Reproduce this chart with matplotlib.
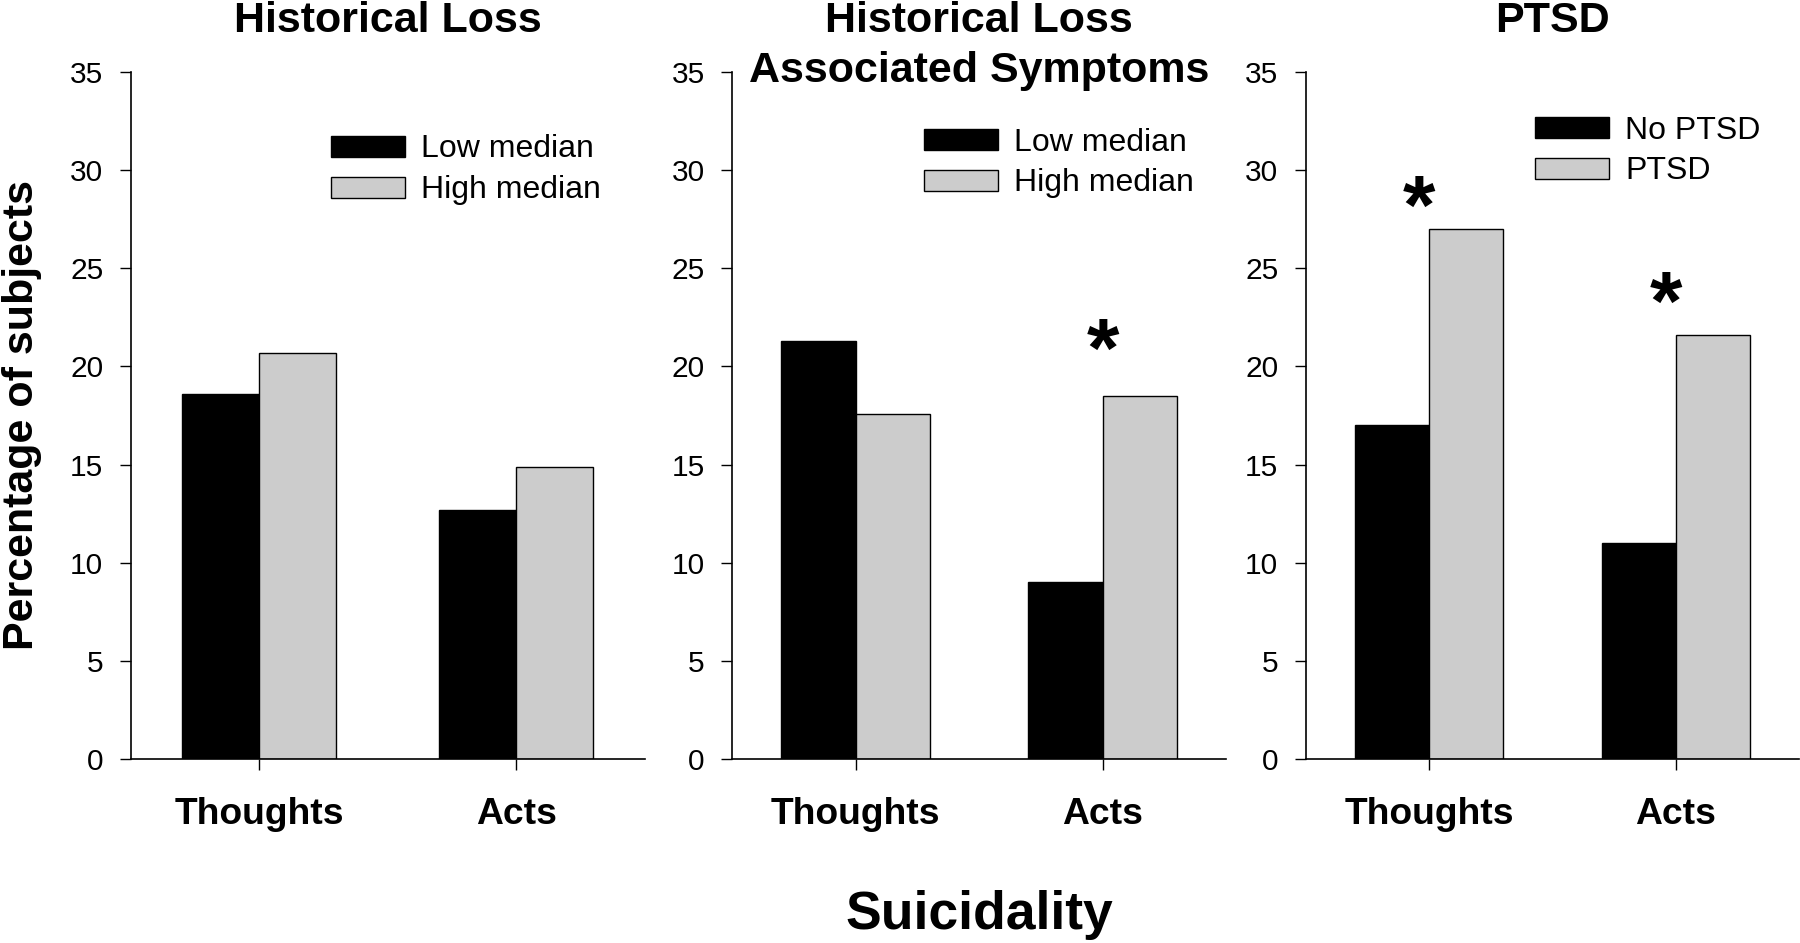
import numpy as np
from matplotlib import pyplot as plt
from matplotlib import transforms

plt.rcParams['font.family'] = ['Liberation Sans', 'DejaVu Sans']

categories    = ['Thoughts', 'Acts']
titles        = [['Historical Loss'], ['Historical Loss', 'Associated Symptoms'], ['PTSD']]
legend_labels = [('Low median', 'High median'),
                 ('Low median', 'High median'),
                 ('No PTSD',    'PTSD'       )]
low_values    = [[18.6, 12.7], [21.3,  9.0], [17.0, 11.0]]
high_values   = [[20.7, 14.9], [17.6, 18.5], [27.0, 21.6]]
y_ticks       = [0, 5, 10, 15, 20, 25, 30, 35]
# significance stars: (panel, category, height of the star centre)
stars         = [(1, 1, 21.6), (2, 0, 28.9), (2, 1, 24.0)]

W, H = 1800, 943
fig = plt.figure(figsize=(W / 100, H / 100), dpi=100)

# axes boxes in pixels: left, width
boxes      = [(130.7, 514.0), (732.0, 494.0), (1305.7, 493.3)]
ax_bottom  = (H - 759.3) / H
ax_height  = 687.6 / H
legend_pos = [(0.389, 0.9087), (0.388, 0.9188), (0.464, 0.9363)]
star_dx    = [0, 0, -7]   # points

axes = []
for i, (left, width) in enumerate(boxes):
	ax = fig.add_axes([left / W, ax_bottom, width / W, ax_height])
	axes.append(ax)
	x = np.arange(len(categories))
	ax.bar(x - 0.15, low_values[i],  0.3, color='black',   edgecolor='black', linewidth=1.0, label=legend_labels[i][0])
	ax.bar(x + 0.15, high_values[i], 0.3, color='#cccccc', edgecolor='black', linewidth=1.0, label=legend_labels[i][1])

	ax.set_xlim(-0.5, 1.5)
	ax.set_ylim(0, 35)
	ax.set_yticks(y_ticks)
	ax.set_xticks(x)
	ax.set_xticklabels(categories, fontsize=26.8, fontweight='bold')
	ax.tick_params(axis='y', labelsize=21.5, length=7.7, width=1.0, pad=12)
	ax.tick_params(axis='x', length=7.7, width=1.0, pad=19.5)
	ax.spines['right'].set_visible(False)
	ax.spines['top'  ].set_visible(False)
	ax.spines['left'  ].set_linewidth(1.2)
	ax.spines['bottom'].set_linewidth(1.2)

	ax.legend(loc='upper left', bbox_to_anchor=legend_pos[i], frameon=False,
	          fontsize=23, handlelength=2.33, handleheight=0.64,
	          handletextpad=0.5, labelspacing=0.34, borderpad=0, borderaxespad=0)

	for k, line in enumerate(titles[i]):
		fig.text((left + width / 2) / W, (H - 31.7 - 50 * k) / H, line, ha='center', va='baseline',
		         fontsize=31, fontweight='bold')

star_size = 60
for panel, idx, height in stars:
	ax = axes[panel]
	trans = transforms.offset_copy(ax.transData, fig=fig, x=star_dx[panel], y=-0.245 * star_size, units='points')
	ax.text(idx, height, '*', transform=trans, ha='center', va='center',
	        fontsize=star_size, fontweight='bold')

fig.text(2 / W, 1 - 415.5 / H, 'Percentage of subjects', rotation=90, ha='left', va='center',
         fontsize=31, fontweight='bold')
fig.text(979 / W, (H - 929) / H, 'Suicidality', ha='center', va='baseline',
         fontsize=38.5, fontweight='bold')

fig.savefig('out.png', dpi=100)
